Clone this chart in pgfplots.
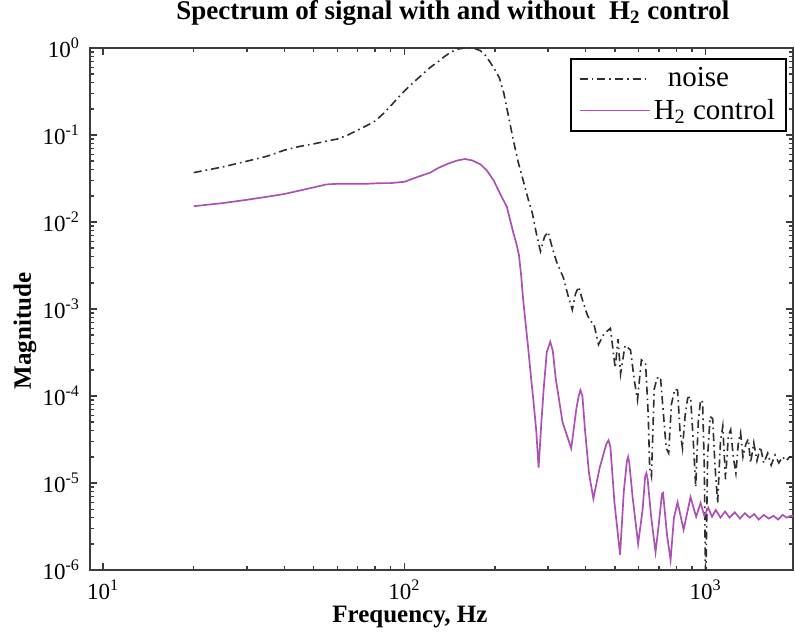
\documentclass[border=0pt]{standalone}
\usepackage{fontspec}
\setmainfont{Liberation Serif}
\usepackage{pgfplots}
\pgfplotsset{compat=1.18}
\definecolor{noisec}{RGB}{45,45,50}
\definecolor{htwo}{RGB}{172,80,182}
\definecolor{axc}{RGB}{60,60,60}
\begin{document}
\begin{tikzpicture}
\begin{loglogaxis}[
  scale only axis, width=351.5pt, height=261pt,
  xmin=9.05, xmax=1950, ymin=1e-6, ymax=1,
  axis line style={line width=0.9pt, color=axc},
  tick style={line width=0.7pt, color=axc},
  major tick length=3.5pt, minor tick length=2pt,
  tick align=inside, xtick pos=both, ytick pos=both,
  xtick={10,100,1000},
  xticklabels={10\textsuperscript{1},10\textsuperscript{2},10\textsuperscript{3}},
  ytick={1e-6,1e-5,1e-4,1e-3,1e-2,1e-1,1},
  yticklabels={10\textsuperscript{-6},10\textsuperscript{-5},10\textsuperscript{-4},10\textsuperscript{-3},10\textsuperscript{-2},10\textsuperscript{-1},10\textsuperscript{0}},
  minor xtick={20,30,40,50,60,70,80,90,200,300,400,500,600,700,800,900},
  minor ytick={2e-6,3e-6,4e-6,5e-6,6e-6,7e-6,8e-6,9e-6,
               2e-5,3e-5,4e-5,5e-5,6e-5,7e-5,8e-5,9e-5,
               2e-4,3e-4,4e-4,5e-4,6e-4,7e-4,8e-4,9e-4,
               2e-3,3e-3,4e-3,5e-3,6e-3,7e-3,8e-3,9e-3,
               2e-2,3e-2,4e-2,5e-2,6e-2,7e-2,8e-2,9e-2,
               2e-1,3e-1,4e-1,5e-1,6e-1,7e-1,8e-1,9e-1},
  xticklabel style={font=\fontsize{11.5}{13}\selectfont, yshift=-1.5pt},
  yticklabel style={font=\fontsize{11.5}{13}\selectfont, xshift=-1.5pt},
  title={Spectrum of signal with and without\ \ H\textsubscript{2} control},
  title style={at={(axis description cs:0.516,1.044)}, anchor=center, font=\bfseries\fontsize{13.5}{16}\selectfont},
  xlabel={Frequency, Hz},
  xlabel style={at={(axis description cs:0.455,-0.09)}, anchor=center, font=\bfseries\fontsize{12.5}{15}\selectfont},
  ylabel={Magnitude},
  ylabel style={at={(axis description cs:-0.0925,0.458)}, anchor=center, font=\bfseries\fontsize{12.5}{15}\selectfont},
  legend style={at={(axis description cs:0.9915,0.981)}, anchor=north east,
    draw=black, line width=0.8pt, inner xsep=4pt, inner ysep=3pt,
    font=\fontsize{14.5}{16}\selectfont, row sep=1.5pt,
    nodes={inner sep=1.5pt}},
  legend cell align=left,
  legend image code/.code={\draw[#1, line width=0.9pt] (0pt,0pt) -- (35pt,0pt);},
]
\addplot[noisec, line width=0.8pt, dash pattern=on 4pt off 2pt on 0.8pt off 2pt] coordinates {
(20,0.037) (25,0.043) (30,0.050) (35,0.057) (40,0.067) (45,0.074) (50,0.079)
(55,0.085) (60,0.090) (65,0.100) (70,0.114) (75,0.128) (80,0.145) (85,0.175)
(90,0.215) (95,0.265) (100,0.32) (107,0.40) (115,0.50) (122,0.60) (129,0.69)
(136,0.80) (143,0.90) (150,0.97) (158,1.00) (165,1.00) (172,0.98) (179,0.93)
(186,0.82) (193,0.68) (200,0.56) (207,0.45) (214,0.30) (222,0.16) (230,0.087)
(239,0.048) (248,0.030) (258,0.018) (266,0.0126) (274,0.0075) (283,0.0046)
(292,0.0068) (300,0.0077) (310,0.0050) (320,0.0035) (337,0.0023) (350,0.0014)
(361,0.00098) (370,0.0015) (379,0.0018) (392,0.0012) (405,0.00085) (415,0.00072)
(425,0.00069) (441,0.00039) (460,0.00052) (483,0.00060) (501,0.00021) (512,0.00045)
(522,0.00018) (540,0.00038) (563,0.00034) (580,0.00015) (594,0.00009) (612,0.00026)
(632,0.00024) (645,0.00006) (652,0.000015) (661,0.000012) (675,0.00012) (690,0.00016)
(708,0.000166) (725,0.00006) (740,0.000025) (754,0.000022) (770,0.00008) (790,0.00012)
(807,0.000117) (822,0.00004) (838,0.000025) (855,0.00006) (872,0.000095) (891,0.000098)
(910,0.00003) (927,0.000009) (945,0.00005) (962,0.00009) (977,0.000085) (990,0.000015)
(1000,0.0000005) (1015,0.00002) (1035,0.000058) (1055,0.000055) (1075,0.000015)
(1096,0.0000059) (1120,0.00003) (1140,0.000045) (1164,0.000011) (1190,0.000035)
(1211,0.000041) (1235,0.00002) (1260,0.000013) (1285,0.00003) (1306,0.000038)
(1330,0.00002) (1360,0.000028) (1385,0.000032) (1410,0.000017) (1445,0.000029)
(1480,0.000018) (1520,0.000026) (1560,0.000017) (1607,0.000022) (1650,0.000016)
(1700,0.000021) (1750,0.000017) (1800,0.000020) (1850,0.000018) (1900,0.000020)
(1950,0.000020) (2000,0.000019)
};
\addlegendentry{\hspace{7pt}noise}
\addplot[htwo, line width=0.85pt] coordinates {
(20,0.0152) (25,0.0165) (30,0.018) (35,0.0195) (40,0.021) (45,0.023) (50,0.025)
(55,0.027) (60,0.0275) (65,0.0275) (70,0.0275) (75,0.0275) (80,0.0278) (85,0.028)
(90,0.028) (95,0.0285) (100,0.029) (108,0.032) (115,0.0345) (122,0.037) (130,0.042)
(140,0.047) (150,0.051) (159,0.053) (168,0.051) (179,0.046) (188,0.039) (198,0.030)
(208,0.021) (219,0.0149) (230,0.0075) (235,0.0058) (240,0.0042) (244,0.0025) (248,0.00127) (253,0.00065) (258,0.00034)
(263,0.00017) (268,0.00009) (274,0.00004) (279,0.000015) (285,0.00005) (290,0.00012) (297,0.00032) (305,0.00042) (311,0.00033) (318,0.00016) (335,0.00005)
(358,0.000025) (372,0.00007) (379,0.0001) (384,0.000117) (390,0.0001) (398,0.00004) (410,0.000013) (424,0.0000066)
(445,0.000015) (468,0.000028) (476,0.000031) (483,0.000026) (498,0.000006) (520,0.0000015) (535,0.000008) (548,0.000018) (553,0.00002) (558,0.000017)
(572,0.000007) (597,0.000002) (618,0.000005) (630,0.000012) (636,0.000013) (642,0.000011) (660,0.000004) (682,0.0000016)
(700,0.0000035) (716,0.0000075) (722,0.0000077) (745,0.0000025) (765,0.0000013) (785,0.000004)
(807,0.000006) (845,0.0000029) (891,0.0000069) (930,0.0000041) (962,0.0000059)
(990,0.0000042) (1020,0.0000052) (1050,0.0000041) (1080,0.0000049) (1120,0.0000040)
(1160,0.0000047) (1200,0.0000040) (1250,0.0000046) (1300,0.0000039) (1350,0.0000045)
(1400,0.0000040) (1450,0.0000044) (1500,0.0000038) (1560,0.0000043) (1620,0.0000039)
(1680,0.0000042) (1740,0.0000038) (1800,0.0000043) (1860,0.0000040) (1920,0.0000042)
(2000,0.0000041)
};
\addlegendentry{H\textsubscript{2} control}
\end{loglogaxis}
\pgfresetboundingbox
\path[use as bounding box] ([shift={(-45pt,-30.5pt)}]current axis.south west) rectangle ([shift={(1pt,24pt)}]current axis.north east);
\end{tikzpicture}
\end{document}
